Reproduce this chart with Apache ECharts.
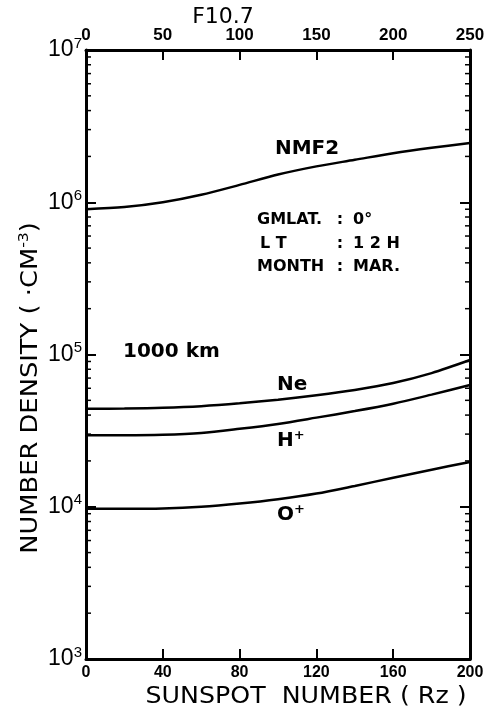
<!DOCTYPE html>
<html>
<head>
<meta charset="utf-8">
<script src="https://cdn.jsdelivr.net/npm/echarts@6/dist/echarts.min.js"></script>
<style>html,body{margin:0;padding:0;background:#fff;}#c{width:498px;height:709px;}</style>
</head>
<body>
<div id="c"></div>
<script>
// Sunspot number Rz (bottom axis)
const rz = [0, 20, 40, 60, 80, 100, 120, 140, 160, 180, 200];
// Number densities (cm^-3) at 1000 km
const nmf2  = [9.0e5, 9.3e5, 1.0e6, 1.12e6, 1.30e6, 1.52e6, 1.72e6, 1.90e6, 2.10e6, 2.28e6, 2.45e6];
const ne    = [4.4e4, 4.42e4, 4.47e4, 4.58e4, 4.78e4, 5.05e4, 5.4e4, 5.85e4, 6.5e4, 7.55e4, 9.2e4];
const hPlus = [2.95e4, 2.95e4, 2.97e4, 3.05e4, 3.25e4, 3.5e4, 3.85e4, 4.25e4, 4.75e4, 5.45e4, 6.3e4];
const oPlus = [9.7e3, 9.7e3, 9.75e3, 1.0e4, 1.05e4, 1.12e4, 1.22e4, 1.37e4, 1.55e4, 1.75e4, 1.97e4];
// Axis tick labels
const rzTicks = [0, 40, 80, 120, 160, 200];
const f107Ticks = [0, 50, 100, 150, 200, 250];
const decades = [3, 4, 5, 6, 7];
const mantissas = [2, 3, 4, 5, 6, 7, 8, 9];

const minorTickVals = [];
decades.slice(0, -1).forEach(d => mantissas.forEach(m => minorTickVals.push([0, m * Math.pow(10, d)])));

const FONT = 'DejaVu Sans';
const NUMFONT = 'Liberation Sans';
const chart = echarts.init(document.getElementById('c'), null, {renderer: 'canvas'});

function lineSeries(name, vals) {
  return {
    name: name, type: 'line', xAxisIndex: 0, yAxisIndex: 0,
    data: rz.map((r, i) => [r, vals[i]]),
    smooth: 0.3, showSymbol: false, silent: true,
    lineStyle: {color: '#000', width: 2.5}
  };
}

const axisLineStyle = {color: '#000', width: 3};
const tickStyle = {inside: true, length: 10, lineStyle: {color: '#000', width: 2}};
const yLog = {min: Math.pow(10, decades[0]), max: Math.pow(10, decades[decades.length - 1])};
const option = {
  animation: false,
  backgroundColor: '#fff',
  grid: {left: 86, right: 28, top: 50, bottom: 50},
  xAxis: [
    {
      type: 'value', position: 'bottom', min: rzTicks[0], max: rzTicks[rzTicks.length - 1], interval: 40,
      axisLine: {onZero: false, lineStyle: axisLineStyle},
      axisTick: tickStyle,
      axisLabel: {color: '#000', fontFamily: NUMFONT, fontWeight: 'bold', fontSize: 16, margin: 6},
      splitLine: {show: false}
    },
    {
      type: 'value', position: 'top', min: f107Ticks[0], max: f107Ticks[f107Ticks.length - 1], interval: 50,
      axisLine: {onZero: false, lineStyle: axisLineStyle},
      axisTick: tickStyle,
      axisLabel: {color: '#000', fontFamily: NUMFONT, fontWeight: 'bold', fontSize: 17, margin: 6},
      splitLine: {show: false}
    }
  ],
  yAxis: [
    {
      type: 'log', logBase: 10, position: 'left', min: yLog.min, max: yLog.max,
      axisLine: {onZero: false, lineStyle: axisLineStyle},
      axisTick: tickStyle,
      axisLabel: {
        color: '#000', margin: 4,
        formatter: v => '{b|10}{s|' + Math.round(Math.log10(v)) + '}',
        rich: {
          b: {fontFamily: NUMFONT, fontSize: 23, color: '#000'},
          s: {fontFamily: NUMFONT, fontSize: 15, color: '#000', padding: [0, 0, 13, 0]}
        }
      },
      splitLine: {show: false}
    },
    {
      type: 'log', logBase: 10, position: 'right', min: yLog.min, max: yLog.max,
      axisLine: {onZero: false, lineStyle: axisLineStyle},
      axisTick: tickStyle,
      axisLabel: {show: false},
      splitLine: {show: false}
    }
  ],
  series: [
    lineSeries('NMF2', nmf2),
    lineSeries('Ne', ne),
    lineSeries('H+', hPlus),
    lineSeries('O+', oPlus),
    {
      type: 'custom', xAxisIndex: 0, yAxisIndex: 0, silent: true, clip: false,
      data: minorTickVals,
      renderItem: function (params, api) {
        const v = api.value(1);
        const pl = api.coord([rzTicks[0], v]);
        const pr = api.coord([rzTicks[rzTicks.length - 1], v]);
        return {
          type: 'group', children: [
            {type: 'line', shape: {x1: pl[0], y1: pl[1], x2: pl[0] + 5, y2: pl[1]}, style: {stroke: '#000', lineWidth: 1.5}},
            {type: 'line', shape: {x1: pr[0], y1: pr[1], x2: pr[0] - 5, y2: pr[1]}, style: {stroke: '#000', lineWidth: 1.5}}
          ]
        };
      }
    }
  ],
  graphic: [
    {type: 'text', x: 223, y: 17, style: {text: 'F10.7', font: '22px "DejaVu Sans"', fill: '#000', textAlign: 'center', textVerticalAlign: 'middle'}},
    {type: 'text', x: 306, y: 697, scaleX: 1.1, style: {text: 'SUNSPOT  NUMBER ( Rz )', font: '23px "DejaVu Sans"', fill: '#000', textAlign: 'center', textVerticalAlign: 'middle'}},
    {type: 'text', x: 31, y: 388, rotation: Math.PI / 2, scaleX: 1.12,
      style: {text: 'NUMBER DENSITY ( ·CM{s|-3})', font: '23px "DejaVu Sans"', fill: '#000', textAlign: 'center', textVerticalAlign: 'middle',
        rich: {s: {fontFamily: FONT, fontSize: 14, fill: '#000', padding: [0, 0, 13, 0]}}}},
    {type: 'text', x: 307, y: 149, style: {text: 'NMF2', font: 'bold 20px "DejaVu Sans"', fill: '#000', textAlign: 'center', textVerticalAlign: 'middle'}},
    {type: 'text', x: 257, y: 220, style: {text: 'GMLAT.', font: 'bold 16px "DejaVu Sans"', fill: '#000', textAlign: 'left', textVerticalAlign: 'middle'}},
    {type: 'text', x: 260, y: 244, style: {text: 'L T', font: 'bold 16px "DejaVu Sans"', fill: '#000', textAlign: 'left', textVerticalAlign: 'middle'}},
    {type: 'text', x: 257, y: 267, style: {text: 'MONTH', font: 'bold 16px "DejaVu Sans"', fill: '#000', textAlign: 'left', textVerticalAlign: 'middle'}},
    {type: 'text', x: 340, y: 220, style: {text: ':', font: 'bold 16px "DejaVu Sans"', fill: '#000', textAlign: 'center', textVerticalAlign: 'middle'}},
    {type: 'text', x: 340, y: 244, style: {text: ':', font: 'bold 16px "DejaVu Sans"', fill: '#000', textAlign: 'center', textVerticalAlign: 'middle'}},
    {type: 'text', x: 340, y: 267, style: {text: ':', font: 'bold 16px "DejaVu Sans"', fill: '#000', textAlign: 'center', textVerticalAlign: 'middle'}},
    {type: 'text', x: 353, y: 220, style: {text: '0°', font: 'bold 16px "DejaVu Sans"', fill: '#000', textAlign: 'left', textVerticalAlign: 'middle'}},
    {type: 'text', x: 353, y: 244, style: {text: '1 2 H', font: 'bold 16px "DejaVu Sans"', fill: '#000', textAlign: 'left', textVerticalAlign: 'middle'}},
    {type: 'text', x: 353, y: 267, style: {text: 'MAR.', font: 'bold 16px "DejaVu Sans"', fill: '#000', textAlign: 'left', textVerticalAlign: 'middle'}},
    {type: 'text', x: 123, y: 352, style: {text: '1000 km', font: 'bold 20px "DejaVu Sans"', fill: '#000', textAlign: 'left', textVerticalAlign: 'middle'}},
    {type: 'text', x: 277, y: 385, style: {text: 'Ne', font: 'bold 20px "DejaVu Sans"', fill: '#000', textAlign: 'left', textVerticalAlign: 'middle'}},
    {type: 'text', x: 277, y: 441, style: {text: 'H{s|+}', font: 'bold 20px "DejaVu Sans"', fill: '#000', textAlign: 'left', textVerticalAlign: 'middle',
      rich: {s: {fontFamily: FONT, fontWeight: 'bold', fontSize: 13, fill: '#000', padding: [0, 0, 10, 0]}}}},
    {type: 'text', x: 277, y: 515, style: {text: 'O{s|+}', font: 'bold 20px "DejaVu Sans"', fill: '#000', textAlign: 'left', textVerticalAlign: 'middle',
      rich: {s: {fontFamily: FONT, fontWeight: 'bold', fontSize: 13, fill: '#000', padding: [0, 0, 10, 0]}}}}
  ]
};
chart.setOption(option);
</script>
</body>
</html>
